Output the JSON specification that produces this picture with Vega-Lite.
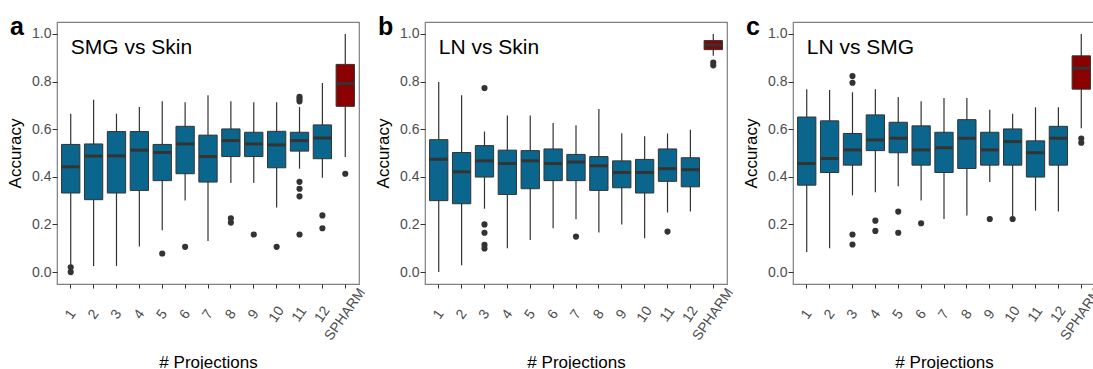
{
  "$schema": "https://vega.github.io/schema/vega-lite/v6.json",
  "padding": {"left": 5, "top": 14, "right": 0, "bottom": 0},
  "background": "white",
  "bounds": "flush",
  "spacing": 66,
  "config": {
    "font": "Liberation Sans",
    "view": {"stroke": "#7f7f7f", "strokeWidth": 1.2},
    "axis": {"labelFontSize": 14, "labelColor": "#4d4d4d", "tickColor": "#333333", "domain": false, "grid": false, "titleFontSize": 17, "titleFontWeight": "normal", "titleColor": "#000000"},
    "title": {"fontSize": 25, "fontWeight": "bold", "anchor": "start", "frame": "group", "offset": -18, "dx": -47, "baseline": "alphabetic", "color": "#000000"}
  },
  "datasets": {
    "boxes": [
      {"panel": "a", "proj": "1", "lo": 0.026, "q1": 0.332, "med": 0.442, "q3": 0.536, "hi": 0.665},
      {"panel": "a", "proj": "2", "lo": 0.026, "q1": 0.304, "med": 0.487, "q3": 0.538, "hi": 0.724},
      {"panel": "a", "proj": "3", "lo": 0.026, "q1": 0.332, "med": 0.488, "q3": 0.59, "hi": 0.665},
      {"panel": "a", "proj": "4", "lo": 0.107, "q1": 0.343, "med": 0.512, "q3": 0.59, "hi": 0.693},
      {"panel": "a", "proj": "5", "lo": 0.176, "q1": 0.384, "med": 0.502, "q3": 0.536, "hi": 0.717},
      {"panel": "a", "proj": "6", "lo": 0.301, "q1": 0.413, "med": 0.538, "q3": 0.612, "hi": 0.713},
      {"panel": "a", "proj": "7", "lo": 0.131, "q1": 0.378, "med": 0.485, "q3": 0.575, "hi": 0.742},
      {"panel": "a", "proj": "8", "lo": 0.374, "q1": 0.485, "med": 0.552, "q3": 0.601, "hi": 0.717},
      {"panel": "a", "proj": "9", "lo": 0.374, "q1": 0.485, "med": 0.538, "q3": 0.587, "hi": 0.713},
      {"panel": "a", "proj": "10", "lo": 0.271, "q1": 0.438, "med": 0.534, "q3": 0.591, "hi": 0.713},
      {"panel": "a", "proj": "11", "lo": 0.434, "q1": 0.508, "med": 0.552, "q3": 0.587, "hi": 0.693},
      {"panel": "a", "proj": "12", "lo": 0.396, "q1": 0.476, "med": 0.563, "q3": 0.618, "hi": 0.794},
      {"panel": "a", "proj": "SPHARM", "lo": 0.483, "q1": 0.696, "med": 0.792, "q3": 0.872, "hi": 1.0},
      {"panel": "b", "proj": "1", "lo": 0.0, "q1": 0.3, "med": 0.474, "q3": 0.556, "hi": 0.798},
      {"panel": "b", "proj": "2", "lo": 0.029, "q1": 0.287, "med": 0.421, "q3": 0.502, "hi": 0.742},
      {"panel": "b", "proj": "3", "lo": 0.266, "q1": 0.399, "med": 0.467, "q3": 0.531, "hi": 0.59},
      {"panel": "b", "proj": "4", "lo": 0.1, "q1": 0.326, "med": 0.456, "q3": 0.512, "hi": 0.657},
      {"panel": "b", "proj": "5", "lo": 0.135, "q1": 0.35, "med": 0.467, "q3": 0.51, "hi": 0.657},
      {"panel": "b", "proj": "6", "lo": 0.184, "q1": 0.384, "med": 0.456, "q3": 0.517, "hi": 0.626},
      {"panel": "b", "proj": "7", "lo": 0.222, "q1": 0.384, "med": 0.462, "q3": 0.494, "hi": 0.616},
      {"panel": "b", "proj": "8", "lo": 0.166, "q1": 0.343, "med": 0.446, "q3": 0.485, "hi": 0.685},
      {"panel": "b", "proj": "9", "lo": 0.2, "q1": 0.354, "med": 0.418, "q3": 0.467, "hi": 0.583},
      {"panel": "b", "proj": "10", "lo": 0.142, "q1": 0.332, "med": 0.418, "q3": 0.473, "hi": 0.57},
      {"panel": "b", "proj": "11", "lo": 0.25, "q1": 0.381, "med": 0.434, "q3": 0.517, "hi": 0.582},
      {"panel": "b", "proj": "12", "lo": 0.254, "q1": 0.358, "med": 0.43, "q3": 0.48, "hi": 0.598},
      {"panel": "b", "proj": "SPHARM", "lo": 0.908, "q1": 0.934, "med": 0.953, "q3": 0.972, "hi": 1.0},
      {"panel": "c", "proj": "1", "lo": 0.084, "q1": 0.365, "med": 0.456, "q3": 0.651, "hi": 0.768},
      {"panel": "c", "proj": "2", "lo": 0.1, "q1": 0.418, "med": 0.477, "q3": 0.635, "hi": 0.764},
      {"panel": "c", "proj": "3", "lo": 0.322, "q1": 0.449, "med": 0.513, "q3": 0.582, "hi": 0.755},
      {"panel": "c", "proj": "4", "lo": 0.335, "q1": 0.51, "med": 0.555, "q3": 0.66, "hi": 0.768},
      {"panel": "c", "proj": "5", "lo": 0.36, "q1": 0.501, "med": 0.562, "q3": 0.629, "hi": 0.735},
      {"panel": "c", "proj": "6", "lo": 0.301, "q1": 0.449, "med": 0.513, "q3": 0.614, "hi": 0.717},
      {"panel": "c", "proj": "7", "lo": 0.223, "q1": 0.418, "med": 0.522, "q3": 0.587, "hi": 0.731},
      {"panel": "c", "proj": "8", "lo": 0.238, "q1": 0.435, "med": 0.562, "q3": 0.64, "hi": 0.731},
      {"panel": "c", "proj": "9", "lo": 0.378, "q1": 0.449, "med": 0.513, "q3": 0.587, "hi": 0.682},
      {"panel": "c", "proj": "10", "lo": 0.235, "q1": 0.449, "med": 0.548, "q3": 0.601, "hi": 0.665},
      {"panel": "c", "proj": "11", "lo": 0.258, "q1": 0.399, "med": 0.501, "q3": 0.551, "hi": 0.692},
      {"panel": "c", "proj": "12", "lo": 0.254, "q1": 0.449, "med": 0.562, "q3": 0.612, "hi": 0.692},
      {"panel": "c", "proj": "SPHARM", "lo": 0.604, "q1": 0.768, "med": 0.856, "q3": 0.908, "hi": 1.0}
    ],
    "outliers": [
      {"panel": "a", "proj": "1", "acc": 0.02},
      {"panel": "a", "proj": "1", "acc": 0.0},
      {"panel": "a", "proj": "5", "acc": 0.078},
      {"panel": "a", "proj": "6", "acc": 0.106},
      {"panel": "a", "proj": "8", "acc": 0.226},
      {"panel": "a", "proj": "8", "acc": 0.208},
      {"panel": "a", "proj": "9", "acc": 0.158},
      {"panel": "a", "proj": "10", "acc": 0.106},
      {"panel": "a", "proj": "11", "acc": 0.736},
      {"panel": "a", "proj": "11", "acc": 0.727},
      {"panel": "a", "proj": "11", "acc": 0.717},
      {"panel": "a", "proj": "11", "acc": 0.379},
      {"panel": "a", "proj": "11", "acc": 0.35},
      {"panel": "a", "proj": "11", "acc": 0.318},
      {"panel": "a", "proj": "11", "acc": 0.158},
      {"panel": "a", "proj": "12", "acc": 0.238},
      {"panel": "a", "proj": "12", "acc": 0.184},
      {"panel": "a", "proj": "SPHARM", "acc": 0.413},
      {"panel": "b", "proj": "3", "acc": 0.773},
      {"panel": "b", "proj": "3", "acc": 0.2},
      {"panel": "b", "proj": "3", "acc": 0.165},
      {"panel": "b", "proj": "3", "acc": 0.114},
      {"panel": "b", "proj": "3", "acc": 0.099},
      {"panel": "b", "proj": "7", "acc": 0.149},
      {"panel": "b", "proj": "11", "acc": 0.17},
      {"panel": "b", "proj": "SPHARM", "acc": 0.88},
      {"panel": "b", "proj": "SPHARM", "acc": 0.868},
      {"panel": "c", "proj": "3", "acc": 0.823},
      {"panel": "c", "proj": "3", "acc": 0.795},
      {"panel": "c", "proj": "3", "acc": 0.158},
      {"panel": "c", "proj": "3", "acc": 0.116},
      {"panel": "c", "proj": "4", "acc": 0.216},
      {"panel": "c", "proj": "4", "acc": 0.173},
      {"panel": "c", "proj": "5", "acc": 0.254},
      {"panel": "c", "proj": "5", "acc": 0.165},
      {"panel": "c", "proj": "6", "acc": 0.205},
      {"panel": "c", "proj": "9", "acc": 0.223},
      {"panel": "c", "proj": "10", "acc": 0.223},
      {"panel": "c", "proj": "SPHARM", "acc": 0.561},
      {"panel": "c", "proj": "SPHARM", "acc": 0.543}
    ]
  },
  "hconcat": [
    {
      "title": {"text": "a"},
      "width": 302, "height": 262,
      "layer": [
        {"data": {"name": "boxes"}, "transform": [{"filter": "datum.panel === 'a'"}], "mark": {"type": "rule", "color": "#333333", "strokeWidth": 1.2},
         "encoding": {
           "x": {"field": "proj", "type": "nominal", "title": "# Projections", "scale": {"domain": ["1","2","3","4","5","6","7","8","9","10","11","12","SPHARM"], "paddingInner": 0.2, "paddingOuter": 0.2}, "axis": {"labelAngle": -55, "labelAlign": "center", "labelBaseline": "middle", "labelPadding": 26, "tickSize": 4, "titlePadding": 12}},
           "y": {"field": "lo", "type": "quantitative", "title": "Accuracy", "scale": {"domain": [-0.05, 1.05], "nice": false, "zero": false}, "axis": {"values": [0, 0.2, 0.4, 0.6, 0.8, 1.0], "format": ".1f", "tickSize": 5, "labelPadding": 1, "titlePadding": 7}},
           "y2": {"field": "hi"}}},
        {"data": {"name": "boxes"}, "transform": [{"filter": "datum.panel === 'a'"}], "mark": {"type": "bar", "stroke": "#333333", "strokeWidth": 1},
         "encoding": {"x": {"field": "proj", "type": "nominal"}, "y": {"field": "q1", "type": "quantitative"}, "y2": {"field": "q3"},
           "fill": {"condition": {"test": "datum.proj === 'SPHARM'", "value": "#8b0000"}, "value": "#0b668e"}}},
        {"data": {"name": "boxes"}, "transform": [{"filter": "datum.panel === 'a'"}], "mark": {"type": "tick", "color": "#333333", "thickness": 3, "size": 18, "opacity": 1},
         "encoding": {"x": {"field": "proj", "type": "nominal"}, "y": {"field": "med", "type": "quantitative"}}},
        {"data": {"name": "outliers"}, "transform": [{"filter": "datum.panel === 'a'"}], "mark": {"type": "circle", "size": 38, "color": "#333333", "opacity": 1},
         "encoding": {"x": {"field": "proj", "type": "nominal"}, "y": {"field": "acc", "type": "quantitative"}}},
        {"data": {"values": [{"label": "SMG vs Skin"}]}, "mark": {"type": "text", "align": "left", "baseline": "alphabetic", "fontSize": 21, "color": "#000000"},
         "encoding": {"x": {"datum": "1"}, "y": {"datum": 0.917}, "text": {"field": "label"}}}
      ]
    },
    {
      "title": {"text": "b"},
      "width": 302, "height": 262,
      "layer": [
        {"data": {"name": "boxes"}, "transform": [{"filter": "datum.panel === 'b'"}], "mark": {"type": "rule", "color": "#333333", "strokeWidth": 1.2},
         "encoding": {
           "x": {"field": "proj", "type": "nominal", "title": "# Projections", "scale": {"domain": ["1","2","3","4","5","6","7","8","9","10","11","12","SPHARM"], "paddingInner": 0.2, "paddingOuter": 0.2}, "axis": {"labelAngle": -55, "labelAlign": "center", "labelBaseline": "middle", "labelPadding": 26, "tickSize": 4, "titlePadding": 12}},
           "y": {"field": "lo", "type": "quantitative", "title": "Accuracy", "scale": {"domain": [-0.05, 1.05], "nice": false, "zero": false}, "axis": {"values": [0, 0.2, 0.4, 0.6, 0.8, 1.0], "format": ".1f", "tickSize": 5, "labelPadding": 1, "titlePadding": 7}},
           "y2": {"field": "hi"}}},
        {"data": {"name": "boxes"}, "transform": [{"filter": "datum.panel === 'b'"}], "mark": {"type": "bar", "stroke": "#333333", "strokeWidth": 1},
         "encoding": {"x": {"field": "proj", "type": "nominal"}, "y": {"field": "q1", "type": "quantitative"}, "y2": {"field": "q3"},
           "fill": {"condition": {"test": "datum.proj === 'SPHARM'", "value": "#8b0000"}, "value": "#0b668e"}}},
        {"data": {"name": "boxes"}, "transform": [{"filter": "datum.panel === 'b'"}], "mark": {"type": "tick", "color": "#333333", "thickness": 3, "size": 18, "opacity": 1},
         "encoding": {"x": {"field": "proj", "type": "nominal"}, "y": {"field": "med", "type": "quantitative"}}},
        {"data": {"name": "outliers"}, "transform": [{"filter": "datum.panel === 'b'"}], "mark": {"type": "circle", "size": 38, "color": "#333333", "opacity": 1},
         "encoding": {"x": {"field": "proj", "type": "nominal"}, "y": {"field": "acc", "type": "quantitative"}}},
        {"data": {"values": [{"label": "LN vs Skin"}]}, "mark": {"type": "text", "align": "left", "baseline": "alphabetic", "fontSize": 21, "color": "#000000"},
         "encoding": {"x": {"datum": "1"}, "y": {"datum": 0.917}, "text": {"field": "label"}}}
      ]
    },
    {
      "title": {"text": "c"},
      "width": 302, "height": 262,
      "layer": [
        {"data": {"name": "boxes"}, "transform": [{"filter": "datum.panel === 'c'"}], "mark": {"type": "rule", "color": "#333333", "strokeWidth": 1.2},
         "encoding": {
           "x": {"field": "proj", "type": "nominal", "title": "# Projections", "scale": {"domain": ["1","2","3","4","5","6","7","8","9","10","11","12","SPHARM"], "paddingInner": 0.2, "paddingOuter": 0.2}, "axis": {"labelAngle": -55, "labelAlign": "center", "labelBaseline": "middle", "labelPadding": 26, "tickSize": 4, "titlePadding": 12}},
           "y": {"field": "lo", "type": "quantitative", "title": "Accuracy", "scale": {"domain": [-0.05, 1.05], "nice": false, "zero": false}, "axis": {"values": [0, 0.2, 0.4, 0.6, 0.8, 1.0], "format": ".1f", "tickSize": 5, "labelPadding": 1, "titlePadding": 7}},
           "y2": {"field": "hi"}}},
        {"data": {"name": "boxes"}, "transform": [{"filter": "datum.panel === 'c'"}], "mark": {"type": "bar", "stroke": "#333333", "strokeWidth": 1},
         "encoding": {"x": {"field": "proj", "type": "nominal"}, "y": {"field": "q1", "type": "quantitative"}, "y2": {"field": "q3"},
           "fill": {"condition": {"test": "datum.proj === 'SPHARM'", "value": "#8b0000"}, "value": "#0b668e"}}},
        {"data": {"name": "boxes"}, "transform": [{"filter": "datum.panel === 'c'"}], "mark": {"type": "tick", "color": "#333333", "thickness": 3, "size": 18, "opacity": 1},
         "encoding": {"x": {"field": "proj", "type": "nominal"}, "y": {"field": "med", "type": "quantitative"}}},
        {"data": {"name": "outliers"}, "transform": [{"filter": "datum.panel === 'c'"}], "mark": {"type": "circle", "size": 38, "color": "#333333", "opacity": 1},
         "encoding": {"x": {"field": "proj", "type": "nominal"}, "y": {"field": "acc", "type": "quantitative"}}},
        {"data": {"values": [{"label": "LN vs SMG"}]}, "mark": {"type": "text", "align": "left", "baseline": "alphabetic", "fontSize": 21, "color": "#000000"},
         "encoding": {"x": {"datum": "1"}, "y": {"datum": 0.917}, "text": {"field": "label"}}}
      ]
    }
  ]
}
